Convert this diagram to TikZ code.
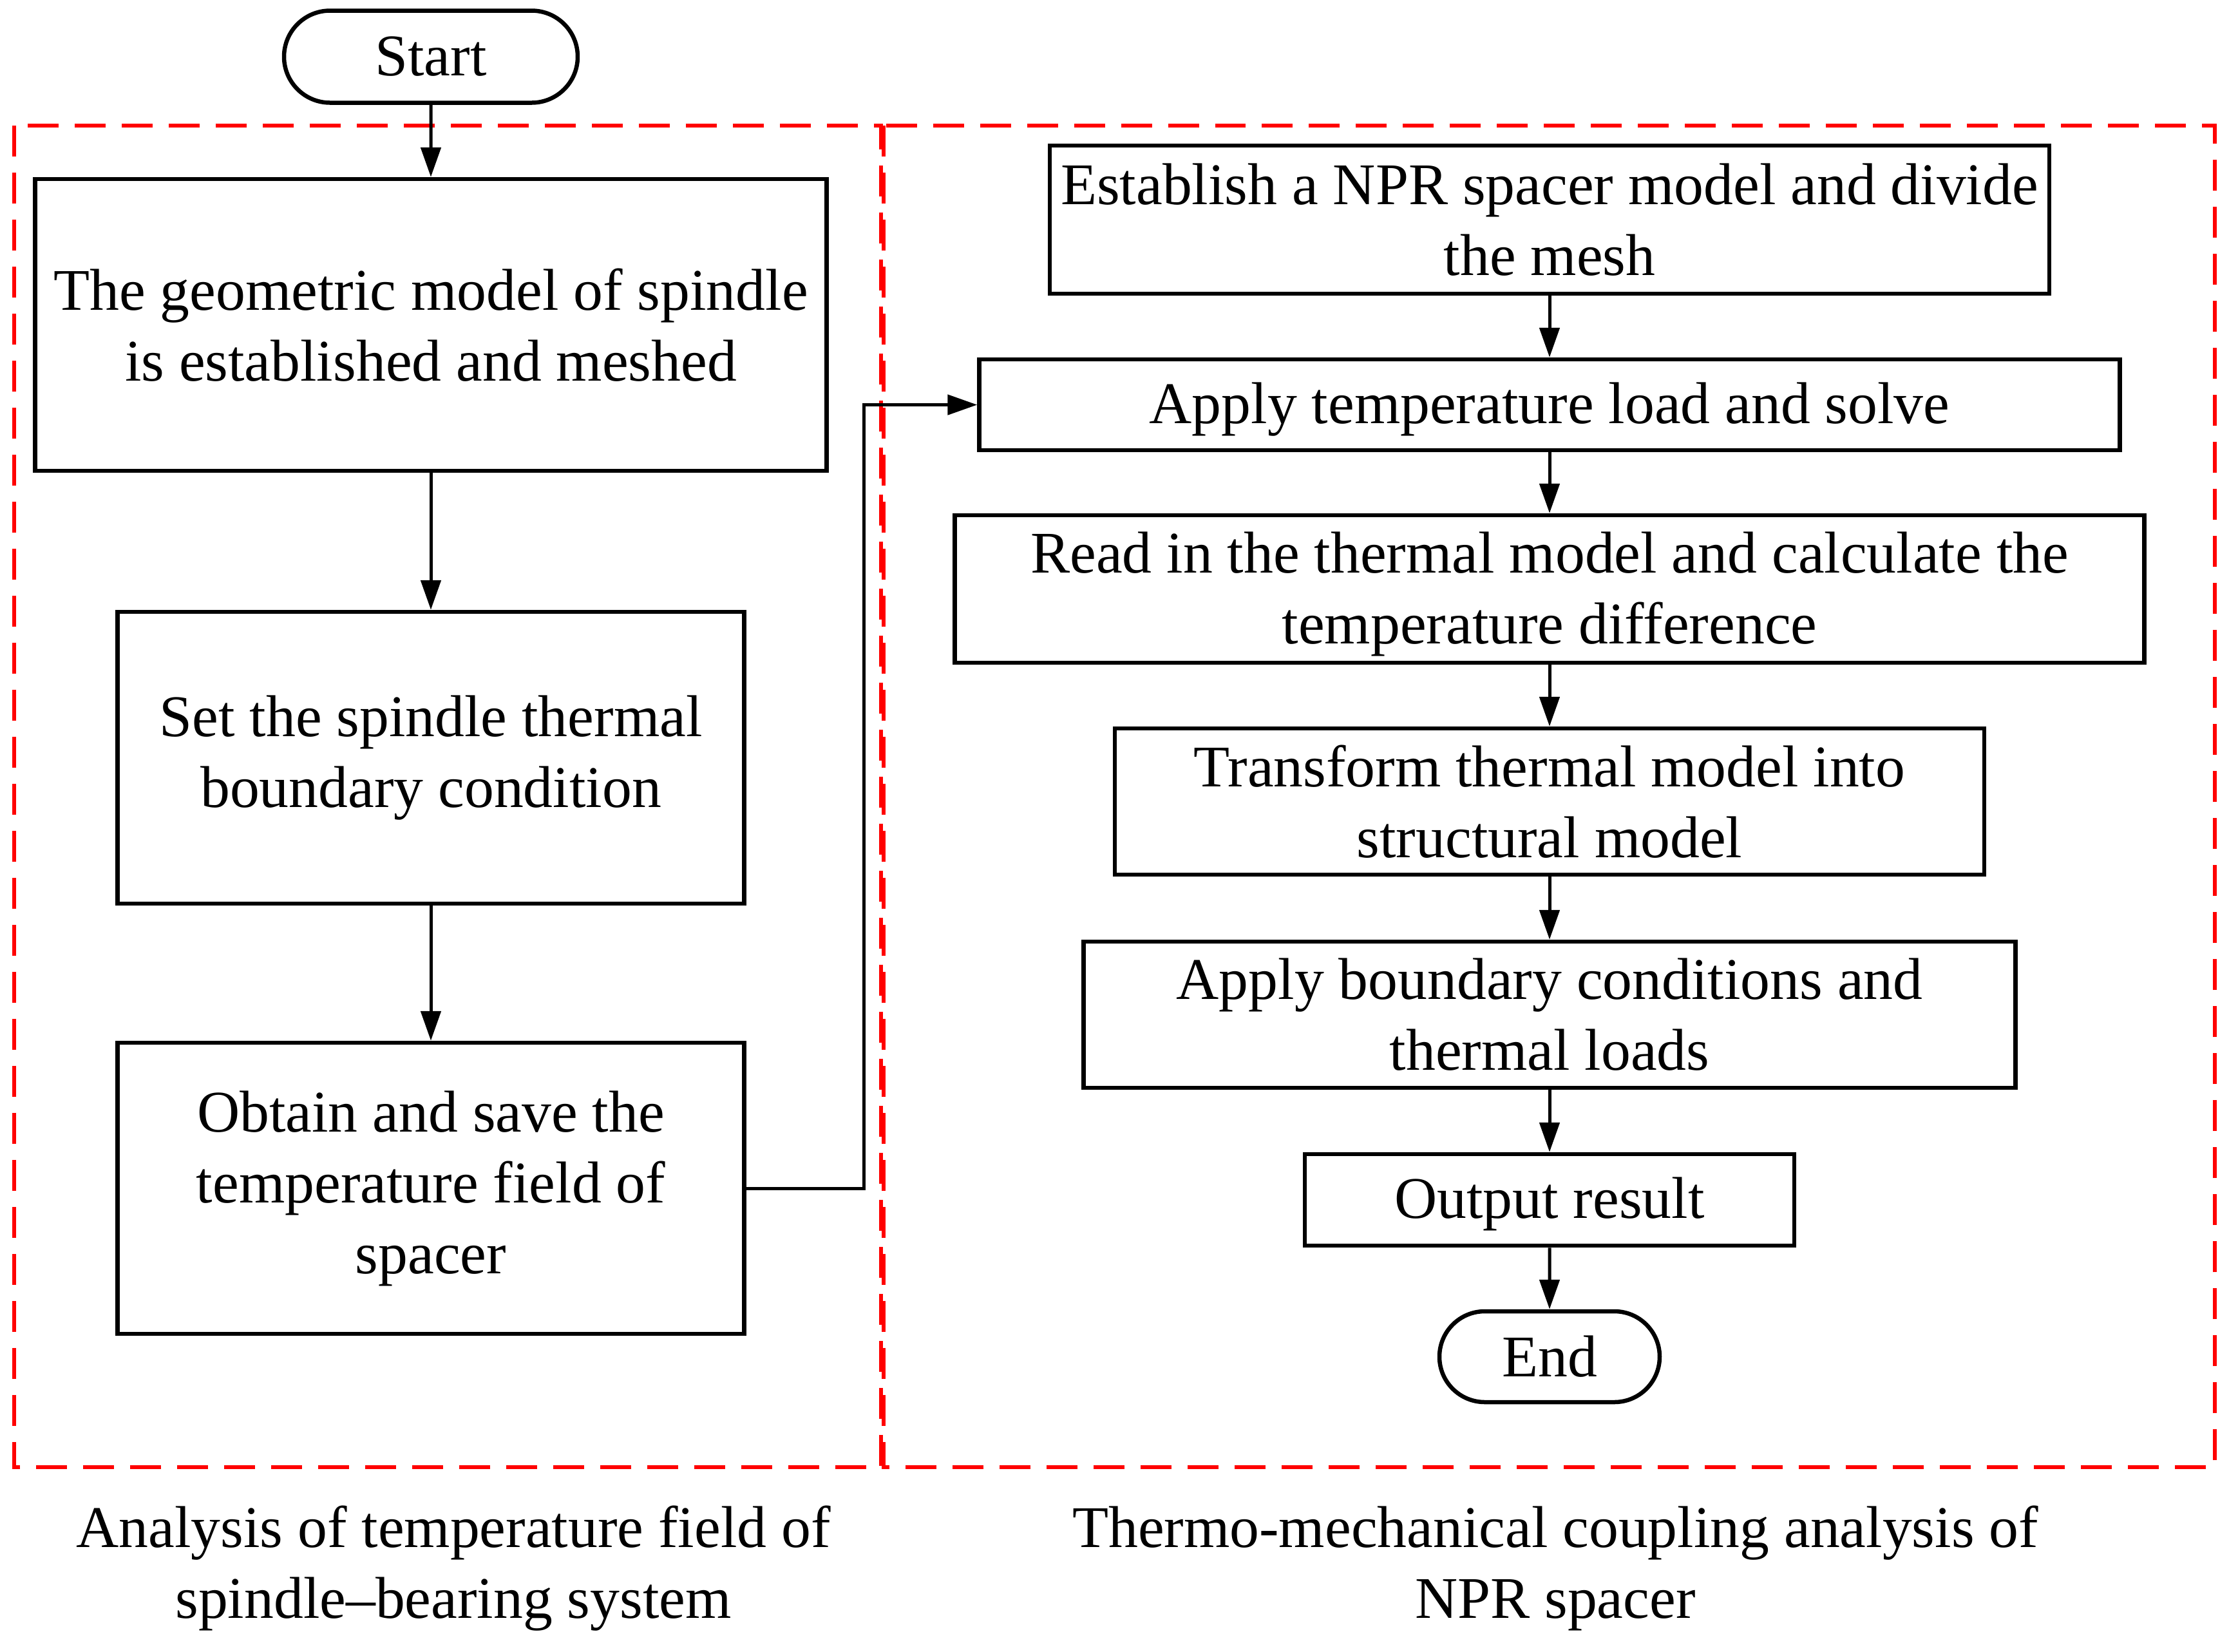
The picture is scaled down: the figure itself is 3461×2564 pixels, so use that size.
\documentclass[tikz,border=0pt]{standalone}
\usepackage{fontspec}
\setmainfont{Liberation Serif}
\usetikzlibrary{arrows.meta,shapes.misc}
\begin{document}
\begin{tikzpicture}[x=0.1pt,y=-0.1pt,
  every node/.style={font=\fontsize{9.17}{11}\selectfont, text=black, align=center, inner sep=0pt},
  procbox/.style={draw, line width=0.65pt, rectangle},
  termbox/.style={draw, line width=0.65pt, rounded rectangle},
  flow/.style={line width=0.5pt, -{Triangle[length=4.6pt,width=3.1pt]}},
  group/.style={draw=red, line width=0.6pt, dash pattern=on 4.8pt off 2.5pt}
]
\useasboundingbox (0,0) rectangle (3461,2564);
% group frames
\draw[group] (22,195) rectangle (1368,2278);
\draw[group] (1372,195) rectangle (3439,2278);
% left column
\node[termbox, minimum width=45.6pt, minimum height=14.3pt] (start) at (669,88) {Start};
\node[procbox, minimum width=122.9pt, minimum height=45.3pt] (b1) at (669,504.5) {The geometric model of spindle\\is established and meshed};
\node[procbox, minimum width=97.3pt, minimum height=45.3pt] (b2) at (669,1176.5) {Set the spindle thermal\\boundary condition};
\node[procbox, minimum width=97.3pt, minimum height=45.2pt] (b3) at (669,1845) {Obtain and save the\\temperature field of\\spacer};
% right column
\node[procbox, minimum width=155.2pt, minimum height=23pt] (r1) at (2406,341) {Establish a NPR spacer model and divide\\the mesh};
\node[procbox, minimum width=177.1pt, minimum height=14.1pt, text depth=0.6pt] (r2) at (2406,628.5) {Apply temperature load and solve};
\node[procbox, minimum width=184.7pt, minimum height=22.9pt, text depth=0.3pt] (r3) at (2406,914.5) {Read in the thermal model and calculate the\\temperature difference};
\node[procbox, minimum width=135pt, minimum height=22.7pt] (r4) at (2406,1244.5) {Transform thermal model into\\structural model};
\node[procbox, minimum width=144.7pt, minimum height=22.7pt] (r5) at (2406,1575.5) {Apply boundary conditions and\\thermal loads};
\node[procbox, minimum width=76pt, minimum height=14.2pt, text depth=0.6pt] (r6) at (2406,1863) {Output result};
\node[termbox, minimum width=34.2pt, minimum height=14.1pt] (end) at (2406,2106.5) {End};
% labels
\node (lab1) at (704,2435) {Analysis of temperature field of\\spindle–bearing system};
\node (lab2) at (2415,2435) {Thermo-mechanical coupling analysis of\\NPR spacer};
% connectors
\draw[flow] (start) -- (b1);
\draw[flow] (b1) -- (b2);
\draw[flow] (b2) -- (b3);
\coordinate (jn) at (1341,628.5);
\draw[flow] (b3.east) -| (jn) -- (r2.west);
\draw[flow] (r1) -- (r2);
\draw[flow] (r2) -- (r3);
\draw[flow] (r3) -- (r4);
\draw[flow] (r4) -- (r5);
\draw[flow] (r5) -- (r6);
\draw[flow] (r6) -- (end);
\end{tikzpicture}
\end{document}
